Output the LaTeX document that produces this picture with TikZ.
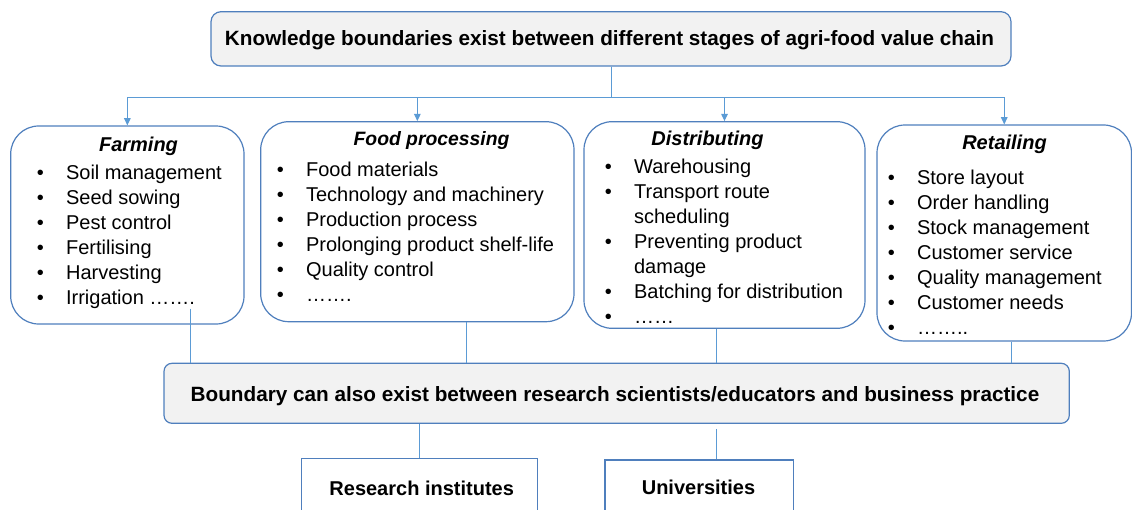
\documentclass[tikz,border=0pt]{standalone}
\usepackage{fontspec}
\setmainfont{Liberation Sans}
\usetikzlibrary{arrows.meta,fit,calc}
\definecolor{bordc}{HTML}{4F7FBD}
\definecolor{linec}{HTML}{5B9BD5}
\definecolor{grayf}{HTML}{F2F2F2}
\newcommand\bul{\makebox[22pt][l]{\textbullet}}
\newcommand\nob{\hspace*{22pt}}
\begin{document}
\begin{tikzpicture}[x=0.75pt,y=-0.75pt,
  stagebox/.style={draw=bordc,line width=0.9pt,rounded corners=21pt,inner sep=0pt,fill=white},
  graybox/.style={draw=bordc,line width=0.9pt,fill=grayf,inner sep=0pt},
  plainbox/.style={draw=bordc,line width=0.9pt,inner sep=0pt,fill=white},
  link/.style={draw=linec,line width=0.75pt},
  arr/.style={link,-{Triangle[length=5.5pt,width=5pt]}},
  head/.style={anchor=base,inner sep=0pt,font=\fontsize{15}{18}\selectfont\bfseries\itshape},
  items/.style={anchor=base west,inner sep=0pt,font=\fontsize{15}{18.75}\selectfont},
  boldtext/.style={anchor=base,inner sep=0pt,font=\fontsize{15.5}{18}\selectfont\bfseries}]
\useasboundingbox (0,0) rectangle (1132,510);

% top box
\node[graybox,rounded corners=7.5pt,fit={(211,11.7) (1011,66)}] (top) {};
\node[boldtext] (toptext) at (609.5,45.7) {\resizebox{576.75pt}{\height}{Knowledge boundaries exist between different stages of agri-food value chain}};

% stage boxes
\node[stagebox,fit={(10.7,126) (244,324)}] (farm) {};
\node[stagebox,fit={(260.7,121.7) (574,321.7)}] (proc) {};
\node[stagebox,fit={(584,121.7) (865,328.3)}] (dist) {};
\node[stagebox,fit={(877,125) (1131.5,341)}] (retl) {};

% headers
\node[head] (farmh) at (138.5,151.5) {Farming};
\node[head,font=\fontsize{14.5}{18}\selectfont\bfseries\itshape] (proch) at (431.5,146) {Food processing};
\node[head] (disth) at (707.5,145) {Distributing};
\node[head] (retlh) at (1004.5,149) {Retailing};

% lists
\node[items] (farml) at (36.5,179) {\begin{tabular}[t]{@{}l@{}}
\bul Soil management\\
\bul Seed sowing\\
\bul Pest control\\
\bul Fertilising\\
\bul Harvesting\\
\bul Irrigation …….
\end{tabular}};
\node[items] (procl) at (276.5,176.5) {\begin{tabular}[t]{@{}l@{}}
\bul Food materials\\
\bul Technology and machinery\\
\bul Production process\\
\bul Prolonging product shelf-life\\
\bul Quality control\\
\bul …….
\end{tabular}};
\node[items] (distl) at (604.5,173.3) {\begin{tabular}[t]{@{}l@{}}
\bul Warehousing\\
\bul Transport route\\
\nob scheduling\\
\bul Preventing product\\
\nob damage\\
\bul Batching for distribution\\
\bul ……
\end{tabular}};
\node[items] (retll) at (887.5,184) {\begin{tabular}[t]{@{}l@{}}
\bul Store layout\\
\bul Order handling\\
\bul Stock management\\
\bul Customer service\\
\bul Quality management\\
\bul Customer needs\\
\bul ……..
\end{tabular}};

% bottom box
\node[graybox,rounded corners=6pt,fit={(164,363.3) (1069.3,423.3)}] (bot) {};
\node[boldtext] (bottext) at (615,401.7) {\resizebox{636.5pt}{\height}{Boundary can also exist between research scientists/educators and business practice}};

% research / universities
\node[plainbox,fit={(301.7,458.3) (537.3,525)}] (res) {};
\node[plainbox,fit={(605,460) (793.3,525)}] (univ) {};
\node[boldtext,font=\fontsize{15}{18}\selectfont\bfseries] (restext) at (421.7,495) {Research institutes};
\node[boldtext,font=\fontsize{15}{18}\selectfont\bfseries] (univtext) at (698.5,494) {Universities};

% connectors from top
\draw[arr] (top.south) -- ++(0,30.7) -| (farm.north);
\draw[arr] (top.south) -- ++(0,30.7) -| (proc.north);
\draw[arr] (top.south) -- ++(0,30.7) -| (dist.north);
\draw[arr] (top.south) -- ++(0,30.7) -| (retl.north);

% connectors to bottom box
\coordinate (f1) at ($(farm.south)+(63.4,-16)$);
\coordinate (p1) at ($(proc.south)+(48.7,0)$);
\coordinate (d1) at ($(dist.south)+(-7.8,0)$);
\coordinate (r1) at ($(retl.south)+(7.45,0)$);
\draw[link] (f1) -- (f1 |- bot.north);
\draw[link] (p1) -- (p1 |- bot.north);
\draw[link] (d1) -- (d1 |- bot.north);
\draw[link] (r1) -- (r1 |- bot.north);

% connectors below
\draw[link] (bot.south -| res.north) -- (res.north);
\coordinate (u1) at ($(univ.north)+(17.5,0)$);
\coordinate (u0) at ($(u1 |- bot.south)+(0,5)$);
\draw[link] (u0) -- (u1);
\end{tikzpicture}
\end{document}
